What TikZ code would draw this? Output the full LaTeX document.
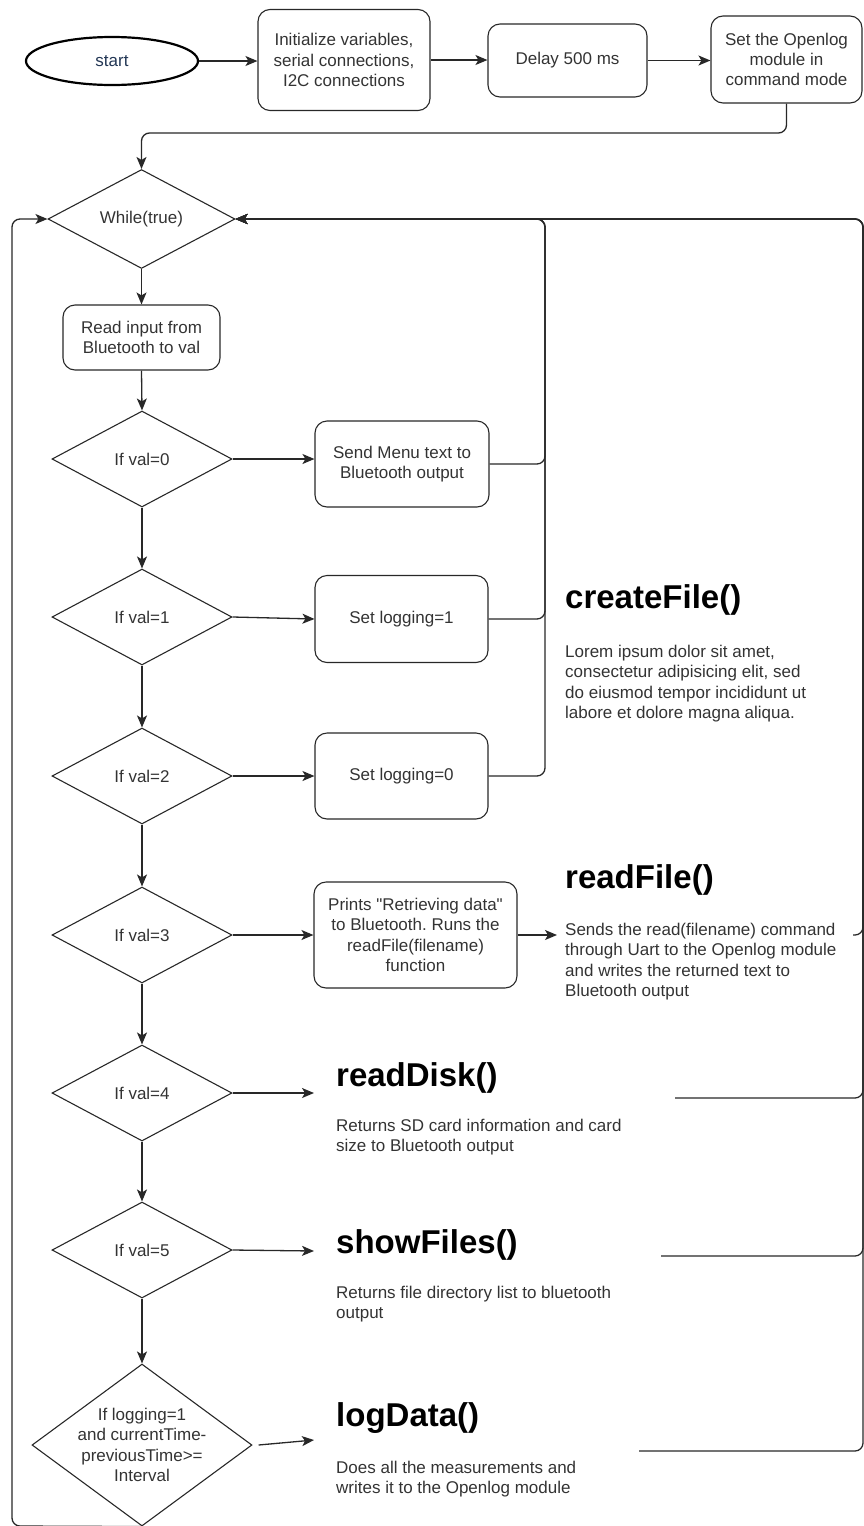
\documentclass[tikz,border=0pt]{standalone}
\usepackage{fontspec}
\setmainfont{Liberation Sans}[Ligatures=TeXOff]
\usetikzlibrary{shapes.geometric,arrows.meta}
\frenchspacing

\definecolor{linegray}{RGB}{40,40,40}
\definecolor{textgray}{RGB}{51,51,51}
\definecolor{startblue}{RGB}{35,55,85}

\begin{document}
\begin{tikzpicture}[x=1pt, y=-1pt,
    every node/.style={font=\fontsize{17}{20.4}\selectfont, text=textgray},
    process/.style={draw=linegray, line width=1.1pt, rounded corners=12pt, align=center, inner sep=2pt},
    decision/.style={draw=linegray, line width=1.1pt, diamond, align=center, inner sep=0pt},
    terminal/.style={draw=black, line width=2.2pt, ellipse, inner sep=0pt},
    flow/.style={draw=linegray, line width=1.3pt, -{Stealth[length=12pt,width=10pt,inset=3pt]}},
    funchead/.style={font=\fontsize{33}{40}\selectfont\bfseries, text=black, anchor=base west, inner sep=0pt},
    funcbody/.style={align=left, anchor=north west, inner sep=0pt}]
        \useasboundingbox (0,0) rectangle (864,1526);

        % Top row
        \node[terminal, minimum width=172pt, minimum height=48pt, text=startblue] (start) at (112,61) {start};
        \node[process, minimum width=172pt, minimum height=101pt] (init) at (344,60) {Initialize variables,\\serial connections,\\I2C connections};
        \node[process, minimum width=159pt, minimum height=73pt] (delay) at (567.5,60.5) {Delay 500 ms};
        \node[process, minimum width=151pt, minimum height=87pt] (openlog) at (786.5,59.5) {Set the Openlog\\module in\\command mode};

        % Main loop
        \node[decision, minimum width=187pt, minimum height=85pt] (while) at (141.5,219) {While(true)};
        \node[process, minimum width=157pt, minimum height=65pt] (read) at (141.5,337.5) {Read input from\\Bluetooth to val};
        \foreach \v/\y in {0/459, 1/617, 2/776, 3/935, 4/1093, 5/1250}
            \node[decision, minimum width=180pt, minimum height=96pt] (val\v) at (142,\y) {If val=\v};
        \node[decision, minimum width=220pt, minimum height=162pt,
              label={[align=center]center:{If logging=1\\and currentTime-\\previousTime>=\\Interval}}] (logcheck) at (142,1445) {};

        % Actions
        \node[process, minimum width=174pt, minimum height=86pt] (menu) at (402,464) {Send Menu text to\\Bluetooth output};
        \node[process, minimum width=173pt, minimum height=87pt] (logon) at (401.5,619) {Set logging=1};
        \node[process, minimum width=173pt, minimum height=86pt] (logoff) at (401.5,776) {Set logging=0};
        \node[process, minimum width=203pt, minimum height=106pt] (prints) at (415.5,935) {Prints "Retrieving data"\\to Bluetooth. Runs the\\readFile(filename)\\function};

        % Functions
        \node[funchead] (createhead) at (565,608) {createFile()};
        \node[funcbody] (createbody) at (565,645) {Lorem ipsum dolor sit amet,\\consectetur adipisicing elit, sed\\do eiusmod tempor incididunt ut\\labore et dolore magna aliqua.};
        \node[funchead] (readhead) at (565,888) {readFile()};
        \node[funcbody] (readbody) at (565,923) {Sends the read(filename) command\\through Uart to the Openlog module\\and writes the returned text to\\Bluetooth output};
        \node[funchead] (diskhead) at (336,1086) {readDisk()};
        \node[funcbody] (diskbody) at (336,1119) {Returns SD card information and card\\size to Bluetooth output};
        \node[funchead] (fileshead) at (336,1253) {showFiles()};
        \node[funcbody] (filesbody) at (336,1286) {Returns file directory list to bluetooth\\output};
        \node[funchead] (loghead) at (336,1426) {logData()};
        \node[funcbody] (logbody) at (336,1461) {Does all the measurements and\\writes it to the Openlog module};

        % Bends and free ends
        \coordinate (topbend) at (141.5,133);
        \coordinate (midbus) at (545,219);
        \coordinate (rightbus) at (863,219);
        \coordinate (loopcorner) at (12,1526);
        \coordinate (readin) at (557,935);
        \coordinate (readout) at (853,935);
        \coordinate (diskin) at (314,1093);
        \coordinate (diskout) at (675,1098);
        \coordinate (filesin) at (314,1251);
        \coordinate (filesout) at (661,1256);
        \coordinate (login) at (314,1440);
        \coordinate (logout) at (639,1451);

        % Start sequence
        \draw[flow] (start.east) -- (start.east -| init.west);
        \draw[flow] (init.east) -- (init.east -| delay.west);
        \draw[flow] (delay.east) -- (delay.east -| openlog.west);
        \draw[flow, rounded corners=8pt] (openlog.south) |- (topbend) -- (while.north);

        % Down the column
        \draw[flow] (while.south) -- (read.north);
        \draw[flow] (read.south) -- (val0.north);
        \foreach \a/\b in {0/1, 1/2, 2/3, 3/4, 4/5}
            \draw[flow] (val\a.south) -- (val\b.north);
        \draw[flow] (val5.south) -- (logcheck.north);

        % Branches
        \draw[flow] (val0.east) -- (val0.east -| menu.west);
        \draw[flow] (val1.east) -- (logon.west);
        \draw[flow] (val2.east) -- (val2.east -| logoff.west);
        \draw[flow] (val3.east) -- (val3.east -| prints.west);
        \draw[flow] (prints.east) -- (readin);
        \draw[flow] (val4.east) -- (diskin);
        \draw[flow] (val5.east) -- (filesin);
        \draw[flow] ([xshift=6pt]logcheck.east) -- (login);

        % Back to While(true)
        \foreach \n in {menu, logon, logoff}
            \draw[flow, rounded corners=8pt] (\n.east) -| (midbus) -- (while.east);
        \foreach \c in {readout, diskout, filesout, logout}
            \draw[flow, rounded corners=8pt] (\c) -| (rightbus) -- (while.east);
        \draw[flow, rounded corners=8pt] (logcheck.south) -- (loopcorner) |- (while.west);
\end{tikzpicture}
\end{document}
